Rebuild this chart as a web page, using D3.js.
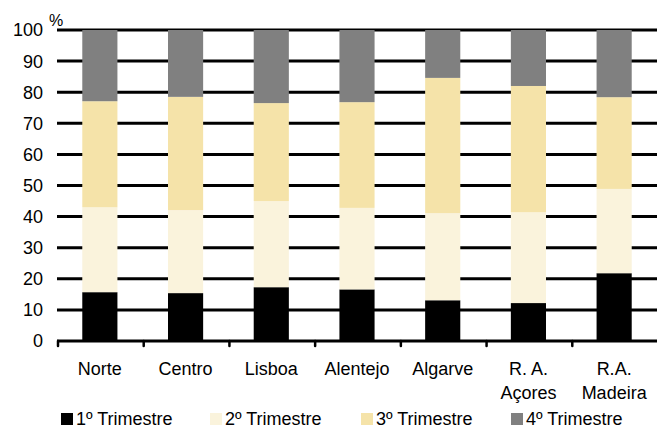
<!DOCTYPE html>
<html>
<head>
<meta charset="utf-8">
<script src="https://cdn.jsdelivr.net/npm/d3@7/dist/d3.min.js"></script>
<style>
  html, body { margin: 0; padding: 0; background: #fff; }
  svg { display: block; font-family: "Liberation Sans", Arial, sans-serif; }
</style>
</head>
<body>
<svg id="chart" width="657" height="429"></svg>
<script>
// Regions (two-line labels split on "|")
const regions = ["Norte", "Centro", "Lisboa", "Alentejo", "Algarve", "R. A.|Açores", "R.A.|Madeira"];
const quarters = ["1º Trimestre", "2º Trimestre", "3º Trimestre", "4º Trimestre"];

// Share of each quarter per region (%)
const q1 = [15.7, 15.4, 17.3, 16.6, 13.1, 12.2, 21.8];
const q2 = [27.3, 26.7, 27.7, 26.2, 28.0, 29.2, 27.1];
const q3 = [34.1, 36.4, 31.5, 34.0, 43.5, 40.6, 29.5];
const q4 = [22.9, 21.5, 23.5, 23.2, 15.4, 18.0, 21.6];

const yTicks = [0, 10, 20, 30, 40, 50, 60, 70, 80, 90, 100];
const colors = ["#000000", "#FAF3DC", "#F5E3A9", "#808080"];

const rows = regions.map((r, i) => ({ region: r, q0: q1[i], q1: q2[i], q2: q3[i], q3: q4[i] }));
const keys = ["q0", "q1", "q2", "q3"];

const svg = d3.select("#chart");
const margin = { left: 57, right: 0, top: 30, bottom: 88 };
const W = 657, H = 429;

const x = d3.scaleBand().domain(regions).range([margin.left, W - margin.right]).paddingInner(0.59).paddingOuter(0.295);
const y = d3.scaleLinear().domain([0, 100]).range([H - margin.bottom, margin.top]);

// Horizontal gridlines
svg.append("g")
  .selectAll("line")
  .data(yTicks.filter(d => d > 0))
  .join("line")
  .attr("x1", margin.left).attr("x2", W - margin.right)
  .attr("y1", d => y(d)).attr("y2", d => y(d))
  .attr("stroke", "#000").attr("stroke-width", 3);

// Y tick labels
svg.append("g")
  .selectAll("text")
  .data(yTicks)
  .join("text")
  .attr("x", 43).attr("y", d => y(d))
  .attr("dy", "0.36em")
  .attr("text-anchor", "end")
  .attr("font-size", 18)
  .attr("fill", "#000")
  .text(d => d);

svg.append("text")
  .attr("x", 49).attr("y", 26)
  .attr("font-size", 16)
  .text("%");

// Stacked bars
const stacked = d3.stack().keys(keys)(rows);
svg.append("g")
  .selectAll("g")
  .data(stacked)
  .join("g")
  .attr("fill", (d, i) => colors[i])
  .selectAll("rect")
  .data(d => d)
  .join("rect")
  .attr("x", d => x(d.data.region))
  .attr("width", x.bandwidth())
  .attr("y", d => y(d[1]))
  .attr("height", d => y(d[0]) - y(d[1]));

// X axis line with tick marks at category boundaries
const step = x.step();
const axisY = y(0);
svg.append("line")
  .attr("x1", margin.left).attr("x2", W)
  .attr("y1", axisY).attr("y2", axisY)
  .attr("stroke", "#000").attr("stroke-width", 3);
svg.append("g")
  .selectAll("line")
  .data(d3.range(regions.length))
  .join("line")
  .attr("x1", i => margin.left + 1 + i * step)
  .attr("x2", i => margin.left + 1 + i * step)
  .attr("y1", axisY).attr("y2", axisY + 5)
  .attr("stroke", "#000").attr("stroke-width", 2.5)
  .attr("stroke-linecap", "round");

// Category labels
svg.append("g")
  .selectAll("text")
  .data(regions)
  .join("text")
  .attr("x", d => x(d) + x.bandwidth() / 2)
  .attr("y", 375)
  .attr("text-anchor", "middle")
  .attr("font-size", 18)
  .attr("fill", "#000")
  .each(function (d) {
    const parts = d.split("|");
    d3.select(this).selectAll("tspan")
      .data(parts)
      .join("tspan")
      .attr("x", x(d) + x.bandwidth() / 2)
      .attr("dy", (p, i) => i === 0 ? 0 : 24)
      .text(p => p);
  });

// Legend
const legendX = [61, 210, 361, 511];
const legend = svg.append("g")
  .selectAll("g")
  .data(quarters)
  .join("g")
  .attr("transform", (d, i) => `translate(${legendX[i]},413)`);
legend.append("rect")
  .attr("width", 12).attr("height", 12)
  .attr("fill", (d, i) => colors[i]);
legend.append("text")
  .attr("x", 15).attr("y", 11.5)
  .attr("font-size", 18)
  .attr("fill", "#000")
  .text(d => d);
</script>
</body>
</html>
